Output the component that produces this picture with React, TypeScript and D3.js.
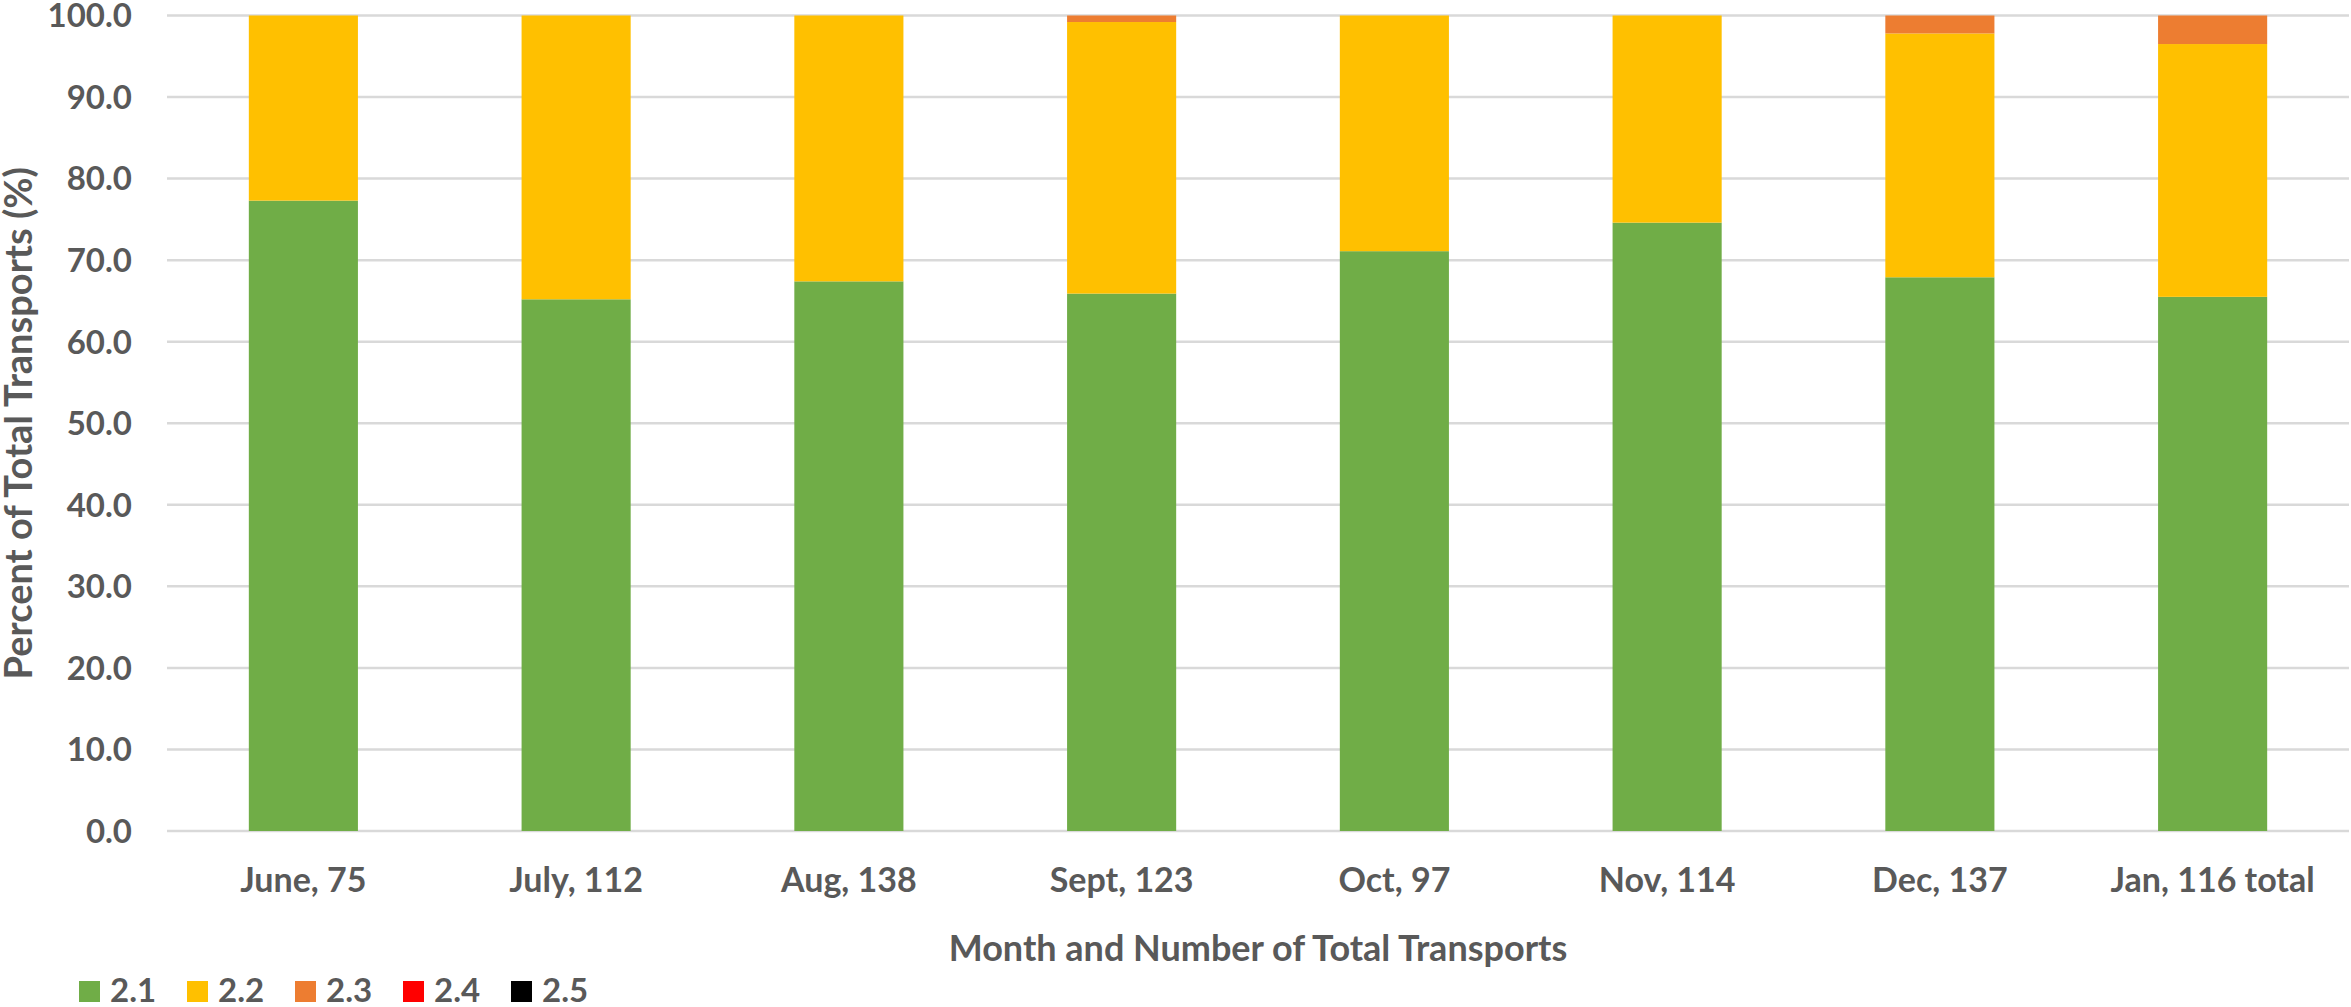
import React, { useEffect, useRef } from 'react';
import * as d3 from 'd3';

// months and totals
const categories = ['June, 75', 'July, 112', 'Aug, 138', 'Sept, 123', 'Oct, 97', 'Nov, 114', 'Dec, 137', 'Jan, 116 total'];
const seriesNames = ['2.1', '2.2', '2.3', '2.4', '2.5'];

// percent of total transports, per series
const s21 = [77.3, 65.2, 67.4, 65.9, 71.1, 74.6, 67.9, 65.5];
const s22 = [22.7, 34.8, 32.6, 33.3, 28.9, 25.4, 29.9, 31.0];
const s23 = [0, 0, 0, 0.8, 0, 0, 2.2, 3.5];
const s24 = [0, 0, 0, 0, 0, 0, 0, 0];
const s25 = [0, 0, 0, 0, 0, 0, 0, 0];

const yTicks = [0, 10, 20, 30, 40, 50, 60, 70, 80, 90, 100];
const colors = ['#70AD47', '#FFC000', '#ED7D31', '#FF0000', '#000000'];

function StackedChart({ width = 2351, height = 1007 }) {
  const svgRef = useRef();

  useEffect(() => {
    document.body.style.margin = '0';
    const font = 'Lato, "Liberation Sans", sans-serif';
    const textColor = '#595959';

    d3.select(svgRef.current).selectAll('*').remove();

    const margin = { top: 15.5, right: 2, bottom: 176, left: 167 };
    const svg = d3.select(svgRef.current)
      .attr('width', width)
      .attr('height', height)
      .style('display', 'block');

    const rows = categories.map((c, i) => ({
      cat: c, '2.1': s21[i], '2.2': s22[i], '2.3': s23[i], '2.4': s24[i], '2.5': s25[i]
    }));

    const x = d3.scaleBand()
      .domain(categories)
      .range([margin.left, width - margin.right])
      .paddingInner(0.6)
      .paddingOuter(0.3);

    const y = d3.scaleLinear()
      .domain([0, 100])
      .range([831, margin.top]);

    // gridlines
    svg.append('g')
      .selectAll('line')
      .data(yTicks)
      .enter()
      .append('line')
      .attr('x1', margin.left)
      .attr('x2', width - margin.right)
      .attr('y1', d => y(d))
      .attr('y2', d => y(d))
      .attr('stroke', '#D9D9D9')
      .attr('stroke-width', 2.5);

    // y tick labels
    svg.append('g')
      .selectAll('text')
      .data(yTicks)
      .enter()
      .append('text')
      .attr('x', 132)
      .attr('y', d => y(d))
      .attr('dy', '0.36em')
      .attr('text-anchor', 'end')
      .style('font-family', font)
      .style('font-weight', 700)
      .style('font-size', '33px')
      .style('fill', textColor)
      .text(d => d.toFixed(1));

    // stacked bars
    const stack = d3.stack().keys(seriesNames);
    const layers = stack(rows);

    svg.append('g')
      .selectAll('g')
      .data(layers)
      .enter()
      .append('g')
      .attr('fill', (d, i) => colors[i])
      .selectAll('rect')
      .data(d => d)
      .enter()
      .append('rect')
      .attr('x', d => x(d.data.cat))
      .attr('width', x.bandwidth())
      .attr('y', d => y(d[1]))
      .attr('height', d => Math.max(0, y(d[0]) - y(d[1])));

    // x labels
    svg.append('g')
      .selectAll('text')
      .data(categories)
      .enter()
      .append('text')
      .attr('x', d => x(d) + x.bandwidth() / 2)
      .attr('y', 892)
      .attr('text-anchor', 'middle')
      .style('font-family', font)
      .style('font-weight', 700)
      .style('font-size', '34px')
      .style('fill', textColor)
      .text(d => d);

    // axis titles
    svg.append('text')
      .attr('x', (margin.left + width - margin.right) / 2)
      .attr('y', 961)
      .attr('text-anchor', 'middle')
      .style('font-family', font)
      .style('font-weight', 700)
      .style('font-size', '36px')
      .style('fill', textColor)
      .text('Month and Number of Total Transports');

    svg.append('text')
      .attr('transform', `translate(32,${(y(0) + y(100)) / 2}) rotate(-90)`)
      .attr('text-anchor', 'middle')
      .style('font-family', font)
      .style('font-weight', 700)
      .style('font-size', '38px')
      .style('fill', textColor)
      .text('Percent of Total Transports (%)');

    // legend
    const legend = svg.append('g')
      .selectAll('g')
      .data(seriesNames)
      .enter()
      .append('g')
      .attr('transform', (d, i) => `translate(${79 + i * 108},981)`);

    legend.append('rect')
      .attr('width', 21)
      .attr('height', 21)
      .attr('fill', (d, i) => colors[i]);

    legend.append('text')
      .attr('x', 31)
      .attr('y', 21)
      .style('font-family', font)
      .style('font-weight', 700)
      .style('font-size', '33px')
      .style('fill', textColor)
      .text(d => d);
  }, [width, height]);

  return <svg ref={svgRef} />;
}

export default function App() {
  return <StackedChart />;
}
